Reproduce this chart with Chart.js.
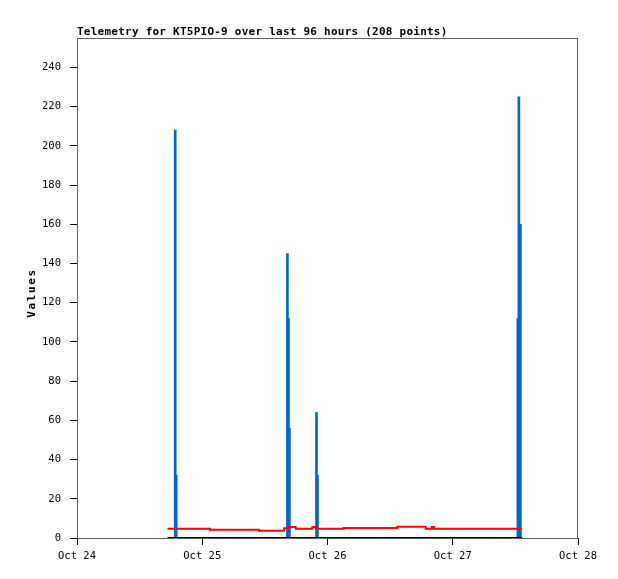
<!DOCTYPE html>
<html>
<head>
<meta charset="utf-8">
<script src="https://cdn.jsdelivr.net/npm/chart.js@4"></script>
<style>
    html, body { margin: 0; padding: 0; background: #fff; }
</style>
</head>
<body>
<canvas id="chart" width="618" height="579"></canvas>
<script>
const titleText = 'Telemetry for KT5PIO-9 over last 96 hours (208 points)';
const axisLabel = 'Values';

// x values are hours since Oct 24 00:00
const dayTicks = [0, 24, 48, 72, 96];
const dayLabels = ['Oct 24', 'Oct 25', 'Oct 26', 'Oct 27', 'Oct 28'];
const yTicks = [0, 20, 40, 60, 80, 100, 120, 140, 160, 180, 200, 220, 240];

// red series, value changes (step line)
const redTimes = [17.34, 25.5, 34.9, 39.7, 40.5, 41.9, 45.1, 45.9, 51.1, 61.4, 66.8, 68.0, 68.4, 85.3];
const redValues = [4.75, 4.25, 3.75, 5.0, 5.6, 4.75, 5.6, 4.75, 5.1, 5.75, 4.75, 5.6, 4.75, 4.75];

// blue series, non-zero readings (impulses)
const blueTimes = [18.82, 19.01, 40.32, 40.51, 40.70, 45.89, 46.08, 84.48, 84.67, 84.96];
const blueValues = [208, 32, 145, 112, 56, 64, 32, 112, 225, 160];

// black series, flat at zero
const blackTimes = [17.34, 85.3];
const blackValues = [0, 0];

const toPoints = (xs, ys) => xs.map((x, i) => ({ x: x, y: ys[i] }));

const monoFont = '"DejaVu Sans Mono", "Liberation Mono", monospace';

// gray frame around the plot, like the original
const framePlugin = {
    id: 'frame',
    beforeDatasetsDraw(chart) {
        const { ctx, chartArea } = chart;
        ctx.save();
        ctx.strokeStyle = '#606060';
        ctx.lineWidth = 1;
        ctx.strokeRect(chartArea.left + 0.5, chartArea.top + 0.5,
            chartArea.right - chartArea.left - 1, chartArea.bottom - chartArea.top);
        ctx.restore();
    },
    afterDraw(chart) {
        const { ctx } = chart;
        ctx.save();
        ctx.fillStyle = '#000';
        ctx.font = 'bold 11px ' + monoFont;
        ctx.letterSpacing = '0.24px';
        ctx.textAlign = 'left';
        ctx.textBaseline = 'alphabetic';
        ctx.fillText(titleText, 77, 34.5);

        ctx.font = 'bold 11px ' + monoFont;
        ctx.letterSpacing = '1.6px';
        ctx.translate(35, 293);
        ctx.rotate(-Math.PI / 2);
        ctx.textAlign = 'center';
        ctx.fillText(axisLabel, 0, 0);
        ctx.restore();
    }
};

new Chart(document.getElementById('chart'), {
    type: 'line',
    data: {
        datasets: [
            {
                label: 'black',
                data: toPoints(blackTimes, blackValues),
                borderColor: '#000000',
                borderWidth: 2,
                pointRadius: 0,
                order: 0
            },
            {
                label: 'red',
                data: toPoints(redTimes, redValues),
                borderColor: '#ff0000',
                borderWidth: 2,
                pointRadius: 0,
                stepped: 'before',
                order: 1
            },
            {
                type: 'bar',
                label: 'blue',
                data: toPoints(blueTimes, blueValues),
                backgroundColor: '#0066cc',
                borderWidth: 0,
                barThickness: 2,
                order: 2
            }
        ]
    },
    options: {
        responsive: false,
        animation: false,
        events: [],
        layout: {
            padding: { top: 38, right: 40, left: 0, bottom: 0 }
        },
        plugins: {
            legend: { display: false },
            tooltip: { enabled: false }
        },
        scales: {
            x: {
                type: 'linear',
                min: 0,
                max: 96,
                offset: false,
                afterBuildTicks: (scale) => { scale.ticks = dayTicks.map(v => ({ value: v })); },
                afterFit: (scale) => { scale.height = 41; },
                ticks: {
                    autoSkip: false,
                    maxRotation: 0,
                    padding: 5,
                    color: '#000',
                    font: { family: monoFont, size: 10.5 },
                    callback: (v) => dayLabels[dayTicks.indexOf(v)]
                },
                grid: { offset: false, drawOnChartArea: false, tickLength: 7, color: '#000' },
                border: { color: '#000' }
            },
            y: {
                min: 0,
                max: 255,
                afterBuildTicks: (scale) => { scale.ticks = yTicks.map(v => ({ value: v })); },
                afterFit: (scale) => { scale.width = 77; },
                ticks: {
                    padding: 9,
                    color: '#000',
                    font: { family: monoFont, size: 10.5 }
                },
                grid: { drawOnChartArea: false, tickLength: 7, color: '#000' },
                border: { color: '#000' }
            }
        }
    },
    plugins: [framePlugin]
});
</script>
</body>
</html>
